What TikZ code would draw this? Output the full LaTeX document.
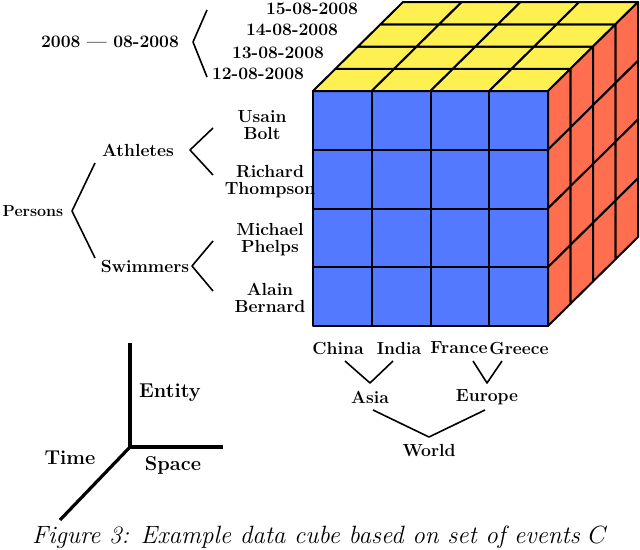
\documentclass[tikz,border=0pt]{standalone}
\begin{document}
\begin{tikzpicture}[x=1pt,y=-1pt,line join=round,
  lab/.style={font=\bfseries\fontsize{17.5}{17}\selectfont,align=center,inner sep=1pt},
  br/.style={line width=1.6pt},
  ax/.style={line width=3.2pt}]
\useasboundingbox (0,0) rectangle (640,549);
\definecolor{cblue}{HTML}{5279FF}
\definecolor{cyel}{HTML}{FFF052}
\definecolor{corg}{HTML}{FF6E4E}
\def\dx{90}\def\dy{-89}\def\c{58.75}
% front
\foreach \i in {0,...,3}\foreach \j in {0,...,3}
 \draw[fill=cblue,line width=2pt] (313+\i*\c,91+\j*\c) rectangle ++(\c,\c);
% top
\foreach \i in {0,...,3}\foreach \j in {0,...,3}
 \draw[fill=cyel,line width=2pt] (313+\i*\c+\j*\dx/4,91+\j*\dy/4) -- ++(\c,0) -- ++(\dx/4,\dy/4) -- ++(-\c,0) -- cycle;
% right
\foreach \i in {0,...,3}\foreach \j in {0,...,3}
 \draw[fill=corg,line width=2pt] (548+\i*\dx/4,91+\j*\c+\i*\dy/4) -- ++(\dx/4,\dy/4) -- ++(0,\c) -- ++(-\dx/4,-\dy/4) -- cycle;
% dates
\node[lab] (d15) at (312,9) {15-08-2008};
\node[lab] (d14) at (292,30) {14-08-2008};
\node[lab] (d13) at (278,53) {13-08-2008};
\node[lab] (d12) at (258,74) {12-08-2008};
\node[lab] (dr) at (110,42) {2008 --- 08-2008};
\coordinate (dt) at (207,10); \coordinate (dm) at (193,42); \coordinate (db) at (207,77);
\draw[br] (dt) -- (dm) -- (db);
% persons
\node[lab,font=\bfseries\fontsize{16}{16}\selectfont] (pers) at (33,211) {Persons};
\node[lab] (ath) at (138,150) {Athletes};
\node[lab] (swi) at (145,266) {Swimmers};
\node[lab] (ub) at (262,125) {Usain\\Bolt};
\node[lab] (rt) at (270,182) {Richard\\Thompson};
\node[lab] (mp) at (270,240) {Michael\\Phelps};
\node[lab] (ab) at (270,298) {Alain\\Bernard};
\coordinate (pm) at (72,211);
\draw[br] (95,163) -- (pm) -- (95,258);
\coordinate (am) at (190,150); \coordinate (sm) at (192,266);
\draw[br] (213,128) -- (am) -- (213,175);
\draw[br] (213,241) -- (sm) -- (213,291);
% places
\node[lab] (chi) at (338,348) {China};
\node[lab] (ind) at (399,348) {India};
\node[lab] (fra) at (459,348) {France};
\node[lab] (gre) at (519,348) {Greece};
\node[lab] (asi) at (370,397) {Asia};
\node[lab] (eur) at (487,397) {Europe};
\node[lab] (wor) at (429,451) {World};
\draw[br] (345,361) -- (370,383) -- (393,361);
\draw[br] (473,361) -- (487,383) -- (502,361);
\draw[br] (373,410) -- (429,437) -- (485,410);
% axes
\coordinate (o) at (130,447);
\draw[ax] (130,343) -- (o) -- (223,447);
\draw[ax] (o) -- (60,520);
\node[font=\bfseries\fontsize{20}{20}\selectfont] (ent) at (170,393) {Entity};
\node[font=\bfseries\fontsize{20}{20}\selectfont] (spa) at (173,465) {Space};
\node[font=\bfseries\fontsize{20}{20}\selectfont] (tim) at (70,458) {Time};
\node[font=\itshape\fontsize{25}{26}\selectfont] (cap) at (320,537) {Figure 3: Example data cube based on set of events $C$};
\end{tikzpicture}
\end{document}
